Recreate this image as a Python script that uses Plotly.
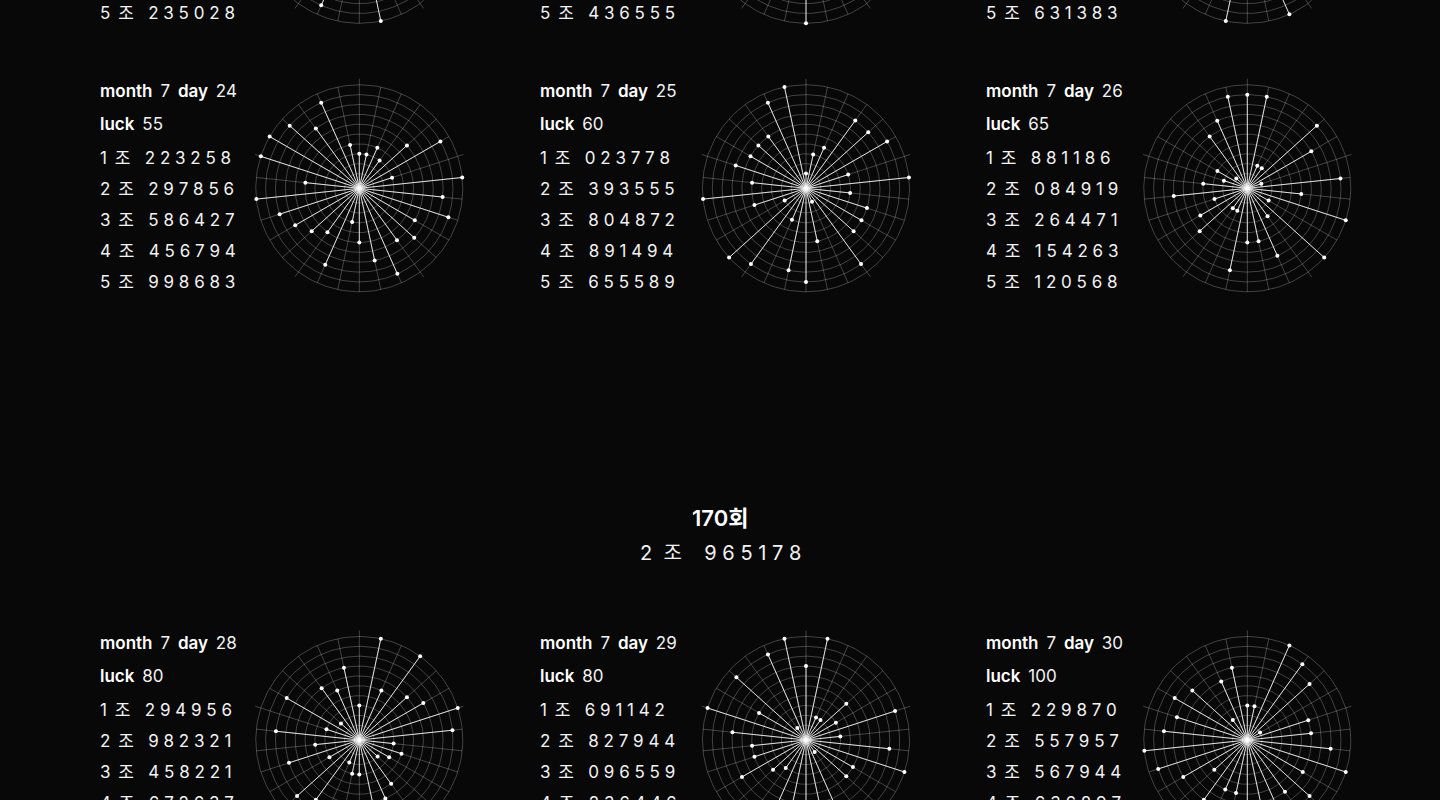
import numpy as np
import plotly.graph_objects as go

W, H = 1440, 800
BG = "#080808"
FONT = "Inter, 'Noto Sans CJK KR', sans-serif"

# ---------------- data ----------------
MONTH = 7
# top row (only its lower edge is on screen): visible values only, None = not visible
TOP_LABEL_5JO = [[2, 3, 5, 0, 2, 8], [4, 3, 6, 5, 5, 5], [6, 3, 1, 3, 8, 3]]
TOP_3JO = [[None, None, 9, None, None, 8],
           [None, None, None, 9, None, None],
           [None, 9, None, None, 9, None]]

DAYS = [24, 25, 26, 28, 29, 30]
LUCK = [55, 60, 65, 80, 80, 100]
D24 = [[2, 2, 3, 2, 5, 8], [2, 9, 7, 8, 5, 6], [5, 8, 6, 4, 2, 7], [4, 5, 6, 7, 9, 4], [9, 9, 8, 6, 8, 3]]
D25 = [[0, 2, 3, 7, 7, 8], [3, 9, 3, 5, 5, 5], [8, 0, 4, 8, 7, 2], [8, 9, 1, 4, 9, 4], [6, 5, 5, 5, 8, 9]]
D26 = [[8, 8, 1, 1, 8, 6], [0, 8, 4, 9, 1, 9], [2, 6, 4, 4, 7, 1], [1, 5, 4, 2, 6, 3], [1, 2, 0, 5, 6, 8]]
D28 = [[2, 9, 4, 9, 5, 6], [9, 8, 2, 3, 2, 1], [4, 5, 8, 2, 2, 1], [6, 7, 2, 6, 3, 7], [2, 7, 1, 5, 4, 6]]
D29 = [[6, 9, 1, 1, 4, 2], [8, 2, 7, 9, 4, 4], [0, 9, 6, 5, 5, 9], [2, 3, 6, 4, 4, 6], [9, 4, 8, 0, 8, 9]]
D30 = [[2, 2, 9, 8, 7, 0], [5, 5, 7, 9, 5, 7], [5, 6, 7, 9, 4, 4], [6, 3, 6, 8, 9, 7], [6, 7, 6, 1, 5, 6]]

SECTION_ROUND = "170회"
SECTION_GROUP = 2
SECTION_NUMBER = [9, 6, 5, 1, 7, 8]

# radial scale: digit values on a radial axis from -1.5 (centre) to 9 (rim)
R_MIN, R_MAX = -1.5, 9
RING_TICKS = list(range(-1, 10))
N_SPOKES = 30
STEP_DEG = 12

# ---------------- layout constants ----------------
R_PX = 103.5
SCALE = R_PX / (R_MAX - R_MIN)
COL_X = [359.3, 806.0, 1247.3]
ROW_Y = [-80.2, 188.3, 740.0]
TEXT_X = [98, 538, 984]

GRID = "rgba(255,255,255,0.30)"
SPOKE = "rgba(255,255,255,0.82)"

fig = go.Figure()
layout_axes = {}
annotations = []


def add_chart(n, cx, cy, groups):
    pad = 12
    px0, px1 = cx - R_PX - pad, cx + R_PX + pad
    py0, py1 = max(0.0, cy - R_PX - pad), min(float(H), cy + R_PX + pad)
    xa, ya = f"xaxis{n}", f"yaxis{n}"
    layout_axes[xa] = dict(domain=[px0 / W, px1 / W], range=[(px0 - cx) / SCALE, (px1 - cx) / SCALE],
                           visible=False, fixedrange=True, anchor=f"y{n}")
    layout_axes[ya] = dict(domain=[1 - py1 / H, 1 - py0 / H], range=[(cy - py1) / SCALE, (cy - py0) / SCALE],
                           visible=False, fixedrange=True, anchor=f"x{n}")
    ref = dict(xaxis=f"x{n}", yaxis=f"y{n}")
    rim = R_MAX - R_MIN
    # rings
    t = np.linspace(0, 2 * np.pi, 241)
    gx, gy = [], []
    for tick in RING_TICKS:
        u = tick - R_MIN
        gx += list(u * np.cos(t)) + [None]
        gy += list(u * np.sin(t)) + [None]
    ang = np.deg2rad(90 - STEP_DEG * np.arange(N_SPOKES))
    for a in ang:
        gx += [0, rim * np.cos(a), None]
        gy += [0, rim * np.sin(a), None]
    fig.add_trace(go.Scatter(x=gx, y=gy, mode="lines", line=dict(color=GRID, width=0.8),
                             hoverinfo="skip", showlegend=False, **ref))
    # outer ticks every 6 categories
    tx, ty = [], []
    for a in ang[::6]:
        tx += [rim * np.cos(a), (rim + 6 / SCALE) * np.cos(a), None]
        ty += [rim * np.sin(a), (rim + 6 / SCALE) * np.sin(a), None]
    fig.add_trace(go.Scatter(x=tx, y=ty, mode="lines", line=dict(color=GRID, width=0.8),
                             hoverinfo="skip", showlegend=False, **ref))
    # data spokes
    vals = [v for g in groups for v in g]
    sx, sy, mx, my = [], [], [], []
    for a, v in zip(ang, vals):
        if v is None:
            continue
        u = v - R_MIN
        sx += [0, u * np.cos(a), None]
        sy += [0, u * np.sin(a), None]
        mx.append(u * np.cos(a))
        my.append(u * np.sin(a))
    fig.add_trace(go.Scatter(x=sx, y=sy, mode="lines", line=dict(color=SPOKE, width=1),
                             hoverinfo="skip", showlegend=False, **ref))
    fig.add_trace(go.Scatter(x=mx, y=my, mode="markers", marker=dict(color="#ffffff", size=4),
                             hoverinfo="skip", showlegend=False, **ref))


def txt(x, y, text, size=17, color="#f2f2f2", anchor="left", weight=400):
    annotations.append(dict(x=x / W, y=1 - y / H, xref="paper", yref="paper", text=text,
                            showarrow=False, xanchor=anchor, yanchor="middle",
                            font=dict(family=FONT, size=size, color=color, weight=weight)))


def bold(s):
    return f"<span style='font-weight:600;fill:#ffffff'>{s}</span>"


def group_line(g, digits):
    return f"{g}\u2009 조   " + " ".join(str(d) for d in digits)


# top partial row
for c in range(3):
    groups = [[None] * 6, [None] * 6, TOP_3JO[c], [None] * 6, [None] * 6]
    add_chart(1 + c, COL_X[c], ROW_Y[0], groups)
    month_y = ROW_Y[0] - 97.3
    txt(TEXT_X[c], month_y + 67 + 31 * 4, group_line(5, TOP_LABEL_5JO[c]))

data_rows = [D24, D25, D26, D28, D29, D30]
for i, groups in enumerate(data_rows):
    r, c = 1 + i // 3, i % 3
    add_chart(4 + i, COL_X[c], ROW_Y[r], groups)
    month_y = ROW_Y[r] - 97.3
    txt(TEXT_X[c], month_y, f"{bold('month')} \u2009{MONTH} \u2009{bold('day')} \u2009{DAYS[i]}")
    txt(TEXT_X[c], month_y + 33, f"{bold('luck')} \u2009{LUCK[i]}")
    for gi, digits in enumerate(groups):
        txt(TEXT_X[c], month_y + 67 + 31 * gi, group_line(gi + 1, digits))

# section header
txt(720, 518, SECTION_ROUND, size=22, color="#ffffff", anchor="center", weight=600)
txt(720, 553, f"{SECTION_GROUP}  조    " + " ".join(str(d) for d in SECTION_NUMBER), size=20,
    color="#f2f2f2", anchor="center")

fig.update_layout(width=W, height=H, margin=dict(l=0, r=0, t=0, b=0),
                  paper_bgcolor=BG, plot_bgcolor="rgba(0,0,0,0)", showlegend=False,
                  annotations=annotations, **layout_axes)

fig.write_html("out.html")
